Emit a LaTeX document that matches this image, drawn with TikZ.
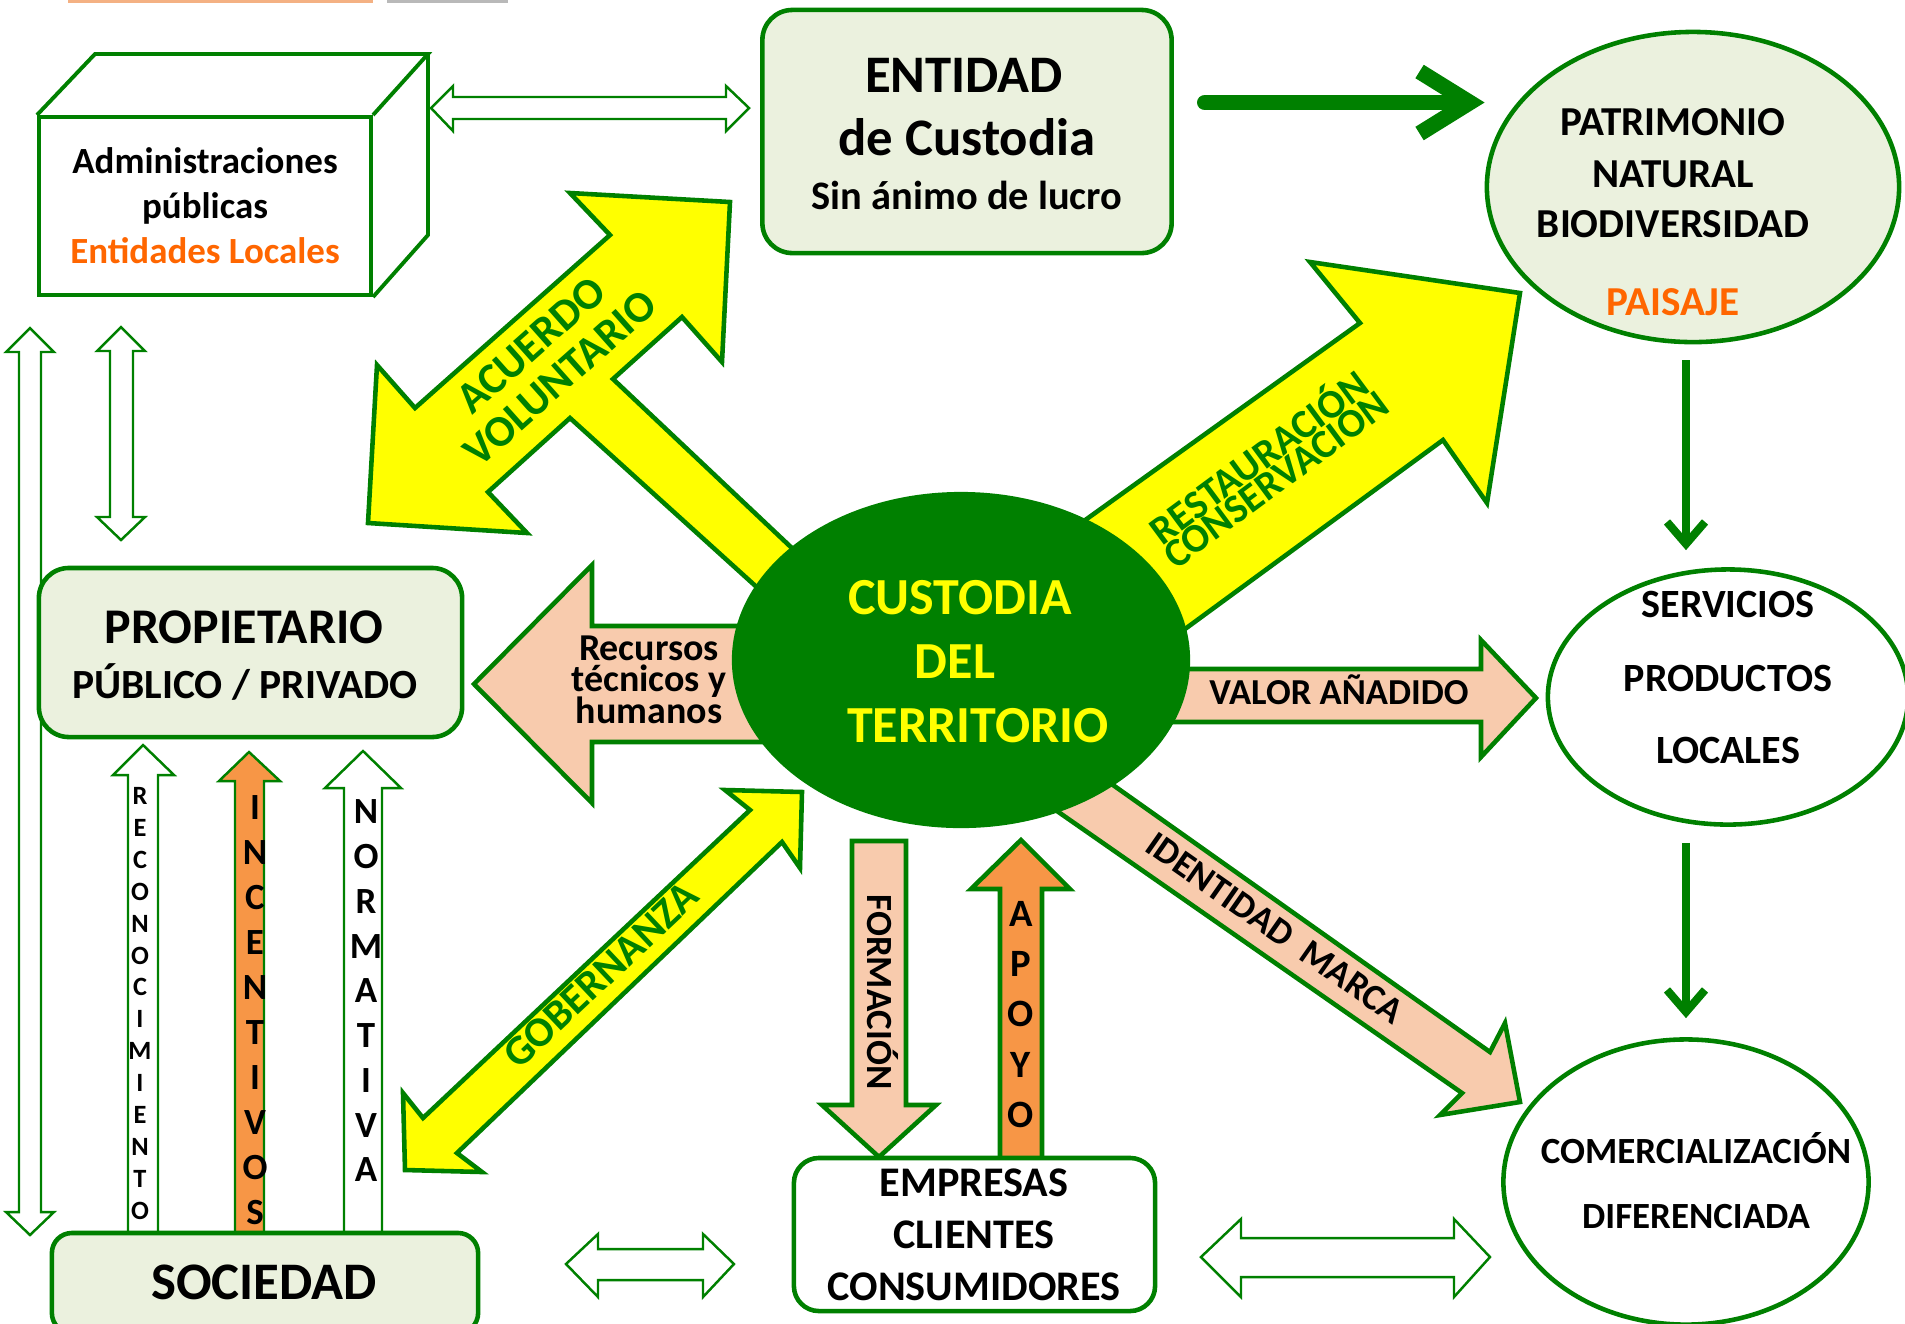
\documentclass[tikz,border=0pt]{standalone}
\usepackage{fontspec}
\setmainfont{Carlito}
\usetikzlibrary{shapes.geometric, arrows.meta}
\definecolor{grn}{RGB}{0,128,0}
\definecolor{lightgrn}{RGB}{235,241,222}
\definecolor{peach}{RGB}{248,203,173}
\definecolor{orng}{RGB}{247,150,70}
\definecolor{txtorange}{RGB}{255,102,0}
\definecolor{ylw}{RGB}{255,255,0}
\definecolor{stripor}{RGB}{244,177,131}
\newcommand{\txtsize}[1]{\fontsize{#1}{#1}\selectfont\bfseries}

\begin{document}
\begin{tikzpicture}[x=0.01cm, y=-0.01cm,
  lbl/.style={inner sep=0pt, anchor=base},
  rlbl/.style={inner sep=0pt},
  box/.style={draw=grn, line width=1.3pt, fill=lightgrn, rounded corners=0.3cm, inner sep=0pt},
  oval/.style={ellipse, draw=grn, line width=1.3pt, inner sep=0pt},
  cubeline/.style={draw=grn, line width=1.1pt, line join=miter},
  blockarrow/.style={draw=grn, line width=1.3pt, line join=miter},
  hollow/.style={draw=grn, fill=white, line width=0.7pt},
  garrow/.style={draw=grn, line width=2.3pt, -{Straight Barb[length=0.22cm, width=0.38cm]}}]
  \clip (0,0) rectangle (1905,1323);
  %\draw[help lines] (0,0) grid[step=100] (1905,1323);

  % bits of strips cut at the top edge
  \fill[stripor] (68,0) rectangle (373,3);
  \fill[gray!55] (387,0) rectangle (508,3);

  % administraciones (cube)
  \node[draw=grn, line width=1.1pt, fill=white, minimum width=3.32cm, minimum height=1.78cm, inner sep=0pt] (admin) at (205,206) {};
  \draw[cubeline] (admin.north west) -- ++(58,-61) -- ++(333,0) -- (admin.north east);
  \draw[cubeline] ([shift={(391,-61)}]admin.north west) -- ++(0,181) -- (admin.south east);
  \node[lbl] (adm1) at (205,173) {\txtsize{10.5}Administraciones};
  \node[lbl] (adm2) at (205,218) {\txtsize{10.5}públicas};
  \node[lbl, text=txtorange] (adm3) at (205,263) {\txtsize{10.5}Entidades Locales};

  % entidad de custodia
  \node[box, minimum width=4.09cm, minimum height=2.43cm] (entidad) at (967,131.5) {};
  \node[lbl] (ent1) at (964,92) {\txtsize{15}ENTIDAD};
  \node[lbl] (ent2) at (967,155) {\txtsize{15}de Custodia};
  \node[lbl] (ent3) at (967,209) {\txtsize{11.5}Sin ánimo de lucro};

  % right column
  \node[oval, fill=lightgrn, minimum width=4.12cm, minimum height=3.10cm] (patrimonio) at (1693,187) {};
  \node[lbl] (pat1) at (1673,135) {\txtsize{11.7}PATRIMONIO};
  \node[lbl] (pat2) at (1673,187) {\txtsize{11.7}NATURAL};
  \node[lbl] (pat3) at (1673,237) {\txtsize{11.7}BIODIVERSIDAD};
  \node[lbl, text=txtorange] (pat4) at (1673,315) {\txtsize{11.7}PAISAJE};

  \node[oval, fill=white, minimum width=3.6cm, minimum height=2.55cm] (servicios) at (1728,697) {};
  \node[lbl] (ser1) at (1728,617) {\txtsize{11.4}SERVICIOS};
  \node[lbl] (ser2) at (1728,691) {\txtsize{11.4}PRODUCTOS};
  \node[lbl] (ser3) at (1728,763) {\txtsize{11.4}LOCALES};

  \node[oval, fill=white, minimum width=3.65cm, minimum height=2.85cm] (comercial) at (1686,1182) {};
  \node[lbl] (com1) at (1696,1163) {\txtsize{10.5}COMERCIALIZACIÓN};
  \node[lbl] (com2) at (1696,1228) {\txtsize{10.5}DIFERENCIADA};

  \coordinate (bigtail) at ([shift={(31,-29)}]entidad.east);
  \draw[grn, line width=4.5pt, line cap=round, -{Straight Barb[length=0.5cm, width=0.62cm]}] (bigtail) -- (patrimonio.west |- bigtail);
  \coordinate (col) at ([xshift=-0.07cm]patrimonio.south);
  \draw[garrow, shorten <=0.16cm, shorten >=0.17cm] (col) -- (col |- servicios.north);
  \draw[garrow, shorten <=0.16cm, shorten >=0.19cm] (col |- servicios.south) -- (col |- comercial.north);

  % left column arrows
  \draw[hollow] (431,108) -- (453,86) -- (453,97) -- (726,97) -- (726,86) -- (749,108) -- (726,131) -- (726,119) -- (453,119) -- (453,131) -- cycle;
  \draw[hollow] (30,328) -- (54,352) -- (41,352) -- (41,1212) -- (54,1212) -- (30,1235) -- (6,1212) -- (19,1212) -- (19,352) -- (6,352) -- cycle;
  \draw[hollow] (121,327) -- (145,351) -- (133,351) -- (133,517) -- (145,517) -- (121,540) -- (97,517) -- (110,517) -- (110,351) -- (97,351) -- cycle;
  \draw[hollow] (143,745) -- (174,775) -- (158,775) -- (158,1240) -- (128,1240) -- (128,775) -- (113,775) -- cycle;
  \draw[hollow, fill=orng] (249,752) -- (280,781) -- (264,781) -- (264,1240) -- (235,1240) -- (235,781) -- (219,781) -- cycle;
  \draw[hollow] (363,751) -- (401,788) -- (382,788) -- (382,1240) -- (344,1240) -- (344,788) -- (325,788) -- cycle;
  \foreach \c [count=\i from 0] in {R,E,C,O,N,O,C,I,M,I,E,N,T,O}
    \node[rlbl] (rec\i) at (140,796+31.9*\i) {\txtsize{7.5}\c};
  \foreach \c [count=\i from 0] in {I,N,C,E,N,T,I,V,O,S}
    \node[rlbl] (inc\i) at (255,808+44.9*\i) {\txtsize{10.5}\c};
  \foreach \c [count=\i from 0] in {N,O,R,M,A,T,I,V,A}
    \node[rlbl] (nor\i) at (366,812+44.75*\i) {\txtsize{10.5}\c};

  \node[box, minimum width=4.23cm, minimum height=1.69cm] (propietario) at (250.5,652.5) {};
  \node[lbl] (pro1) at (244,643) {\txtsize{14.2}PROPIETARIO};
  \node[lbl] (pro2) at (245,698) {\txtsize{11.8}PÚBLICO / PRIVADO};

  \node[box, rounded corners=0.2cm, minimum width=4.26cm, minimum height=1.0cm] (sociedad) at (265,1283) {};
  \node[lbl] (soc) at (264,1299) {\txtsize{15}SOCIEDAD};

  % block arrows round the centre
  \draw[blockarrow, fill=peach] (474,684) -- (592,565) -- (592,626) -- (780,626) -- (780,742) -- (592,742) -- (592,803) -- cycle;
  \node[lbl] (rec1) at (649,660) {\txtsize{10.8}Recursos};
  \node[lbl] (rec2) at (649,691) {\txtsize{10.8}técnicos y};
  \node[lbl] (rec3) at (649,723) {\txtsize{10.8}humanos};

  \draw[blockarrow, fill=peach] (1150,669) -- (1481,669) -- (1481,640) -- (1536,698) -- (1481,757) -- (1481,722) -- (1150,722) -- cycle;
  \node[lbl] (valor) at (1339,704) {\txtsize{10.4}VALOR AÑADIDO};

  \draw[blockarrow, fill=ylw] (730,202) -- (722,362) -- (682,317) -- (613,379) -- (812,567) -- (782,610) -- (570,418) -- (488,492) -- (527,533) -- (368,523) -- (377,365) -- (415,408) -- (610,235) -- (570,193) -- cycle;
  \node[rlbl, rotate=41.6, text=grn] (acu1) at (531,345) {\txtsize{12.5}ACUERDO};
  \node[rlbl, rotate=41.6, text=grn] (acu2) at (560,378) {\txtsize{12.5}VOLUNTARIO};

  \draw[blockarrow, fill=ylw] (1056,541) -- (1360,323) -- (1310,262) -- (1520,293) -- (1487,503) -- (1443,440) -- (1155,651) -- cycle;
  \node[rlbl, rotate=36.5, text=grn] (res1) at (1257,455) {\txtsize{11.5}RESTAURACIÓN};
  \node[rlbl, rotate=36.5, text=grn] (res2) at (1276,480) {\txtsize{11.5}CONSERVACION};

  \draw[blockarrow, fill=peach] (1089,768) -- (1490,1052) -- (1505,1023) -- (1520,1102) -- (1440,1115) -- (1462,1093) -- (1034,795) -- cycle;
  \node[rlbl, rotate=-35] (ident) at (1275,928) {\txtsize{10.5}IDENTIDAD\ \ MARCA};

  \draw[blockarrow, fill=ylw] (802,792) -- (800,868) -- (782,842) -- (457,1153) -- (482,1172) -- (405,1170) -- (403,1093) -- (423,1118) -- (750,810) -- (725,790) -- cycle;
  \node[rlbl, rotate=43.3, text=grn] (gob) at (601,975) {\txtsize{12}GOBERNANZA};

  \draw[blockarrow, fill=peach] (852,841) -- (906,841) -- (906,1105) -- (936,1105) -- (879,1157) -- (822,1105) -- (852,1105) -- cycle;
  \node[rlbl, rotate=-90] (form) at (883,992) {\txtsize{10.5}FORMACIÓN};

  \draw[blockarrow, fill=orng] (1000,1165) -- (1000,889) -- (971,889) -- (1021,840) -- (1070,889) -- (1042,889) -- (1042,1165) -- cycle;
  \foreach \c [count=\i from 0] in {A,P,O,Y,O}
    \node[rlbl] (apo\i) at (1021,914+50.2*\i) {\txtsize{11}\c};

  % centre
  \node[ellipse, fill=grn, minimum width=4.58cm, minimum height=3.36cm, inner sep=0pt] (custodia) at (961,660) {};
  \node[lbl, text=ylw] (cus1) at (960,614) {\txtsize{14.8}CUSTODIA};
  \node[lbl, text=ylw] (cus2) at (955,678) {\txtsize{14.8}DEL};
  \node[lbl, text=ylw] (cus3) at (978,742) {\txtsize{14.8}TERRITORIO};

  % bottom
  \node[box, fill=white, rounded corners=0.25cm, minimum width=3.61cm, minimum height=1.53cm] (empresas) at (974.5,1234.5) {};
  \node[lbl] (emp1) at (974,1196) {\txtsize{12}EMPRESAS};
  \node[lbl] (emp2) at (974,1248) {\txtsize{12}CLIENTES};
  \node[lbl] (emp3) at (974,1300) {\txtsize{12}CONSUMIDORES};
  \draw[hollow] (566,1264) -- (598,1234) -- (598,1249) -- (703,1249) -- (703,1234) -- (734,1264) -- (703,1297) -- (703,1280) -- (598,1280) -- (598,1297) -- cycle;
  \draw[hollow] (1201,1257) -- (1241,1219) -- (1241,1238) -- (1454,1238) -- (1454,1219) -- (1490,1257) -- (1454,1297) -- (1454,1277) -- (1241,1277) -- (1241,1297) -- cycle;
\end{tikzpicture}
\end{document}
